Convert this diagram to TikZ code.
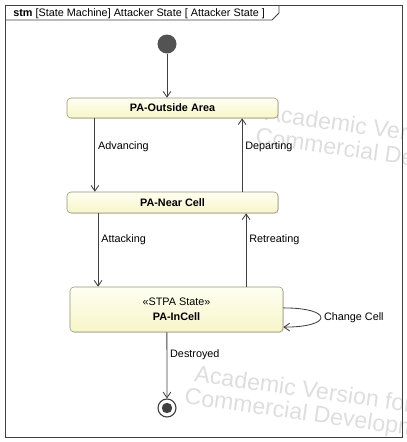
\documentclass[tikz,border=0pt]{standalone}
\usepackage{fontspec}
\setmainfont{Liberation Sans}
\usetikzlibrary{arrows.meta, positioning, calc, shadows}
\definecolor{framegray}{RGB}{64, 64, 64}
\definecolor{stateline}{RGB}{150, 148, 118}
\definecolor{statetop}{RGB}{255, 255, 242}
\definecolor{statebot}{RGB}{247, 245, 200}
\definecolor{markgray}{RGB}{222, 222, 222}

\begin{document}
\begin{tikzpicture}[
    x=0.025cm, y=-0.025cm,
    font=\fontsize{7.7}{9.5}\selectfont,
    state/.style={draw=stateline, top color=statetop, bottom color=statebot, rounded corners=1mm, minimum width=5.275cm, minimum height=0.5cm, inner sep=0pt, align=center, drop shadow={shadow xshift=0.6pt, shadow yshift=-0.6pt, opacity=0.25}},
    startdot/.style={circle, fill=framegray!90, minimum size=0.475cm, inner sep=0pt},
    enddot/.style={circle, draw=framegray, fill=white, thick, minimum size=0.45cm, inner sep=0pt, path picture={\fill[framegray] (path picture bounding box.center) circle (0.13cm);}},
    trans/.style={-{Straight Barb[length=4pt, width=5.5pt]}, framegray, line width=0.6pt},
    lbl/.style={right, inner sep=2pt, text=black},
    watermark/.style={anchor=base west, rotate=-8, text=markgray, font=\fontsize{16.5}{19}\selectfont}
]
\useasboundingbox (0,0) rectangle (407,442);

% watermark
\begin{scope}
\clip (0,0) rectangle (407,442);
\node[watermark] (wm1) at (260,120) {Academic Version for};
\node[watermark] (wm2) at (250,143) {Commercial Development};
\node[watermark] (wm3) at (189,381) {Academic Version for};
\node[watermark] (wm4) at (179,403) {Commercial Development};
\end{scope}

% frame
\draw[framegray, line width=0.7pt] (5,5) rectangle (402,437);
\draw[framegray, line width=0.6pt] (5,20) -- (272,20) -- (279,13) -- (279,5);
\node[anchor=base west, inner sep=0pt] (title) at (13,16) {\textbf{stm} [State Machine] Attacker State [ Attacker State ]};

% states
\node (start) [startdot] at (167,44) {};
\node (outside) [state] at (172.5,108) {\textbf{PA-Outside Area}};
\node (near) [state, minimum height=0.525cm] at (172.5,202.5) {\textbf{PA-Near Cell}};
\node (incell) [state, minimum width=5.325cm, minimum height=1.125cm] at (176.5,309.5) {«STPA State»\\[1pt]\textbf{PA-InCell}};
\node (fin) [enddot] at (167,408) {};

% transitions
\draw [trans] (start) -- (start |- outside.north);
\draw [trans] ([xshift=-1.94cm]outside.south) -- node[lbl, pos=0.39] {Advancing} ([xshift=-1.94cm]outside.south |- near.north);
\draw [trans] ([xshift=1.74cm]outside.south |- near.north) -- node[lbl, pos=0.61] {Departing} ([xshift=1.74cm]outside.south);
\draw [trans] ([xshift=-1.86cm]near.south) -- node[lbl, pos=0.365] {Attacking} ([xshift=-1.86cm]near.south |- incell.north);
\draw [trans] ([xshift=1.84cm]near.south |- incell.north) -- node[lbl, pos=0.635] {Retreating} ([xshift=1.84cm]near.south);
\draw [trans] ([xshift=-0.24cm]incell.south) -- node[lbl, pos=0.34] {Destroyed} (fin);
\draw [trans] ([yshift=0.04cm]incell.east) .. controls +(1.25cm,0) and +(1.25cm,0) .. node[lbl] {Change Cell} ([yshift=-0.44cm]incell.east);

\end{tikzpicture}
\end{document}
